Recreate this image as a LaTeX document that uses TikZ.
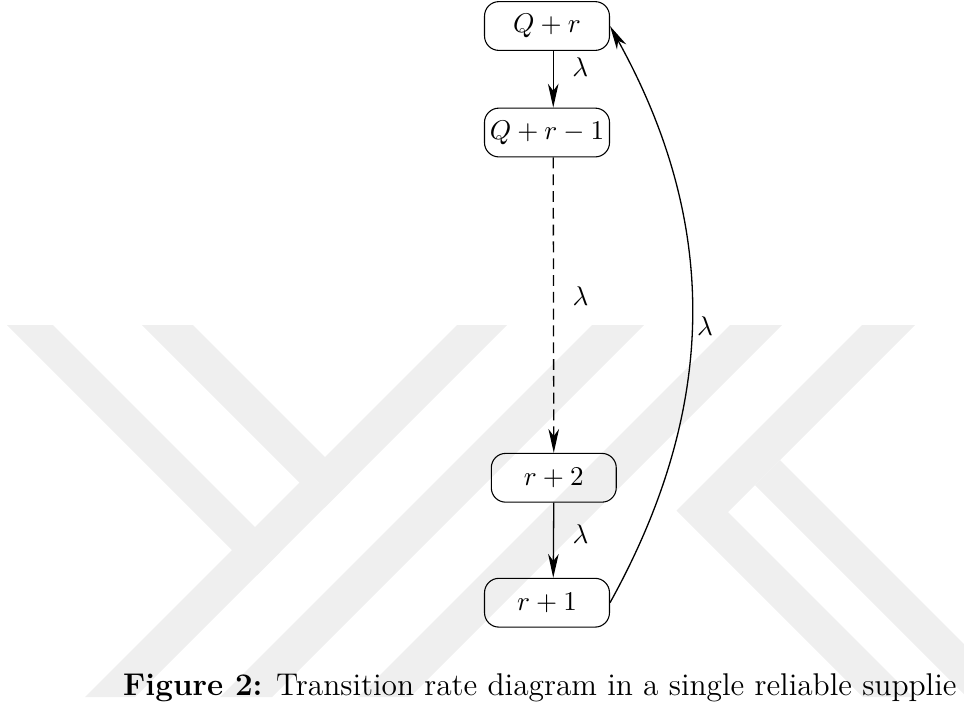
\documentclass[tikz,border=0pt,12pt]{standalone}
\usepackage{tikz}
\usetikzlibrary{positioning,arrows.meta,calc}
\definecolor{logogray}{RGB}{239,239,239}
\tikzset{
    state/.style={
        rectangle,
        draw,
        rounded corners=5.3pt,
        minimum width=46.1pt,
        minimum height=18pt,
        inner xsep=2pt,
        align=center,
        font=\fontsize{9.7}{11.6}\selectfont
    },
    arrow/.style={
        -{Stealth[length=8.8pt,width=3.9pt,inset=2.6pt]},
        line width=0.48pt
    },
    rate/.style={
        right=2.8pt,
        font=\fontsize{9.7}{11.6}\selectfont
    },
    logoband/.style={
        fill=logogray
    }
}

\begin{document}
\begin{tikzpicture}[x=0.369pt, y=-0.369pt]
    \useasboundingbox (0,0) rectangle (964,705);
    \fill[logoband] (7,325) -- (53,325) -- (280,552) -- (257,575) -- cycle;
    \fill[logoband] (142,325) -- (193,325) -- (350,482) -- (324.5,507.5) -- cycle;
    \fill[logoband] (457,325) -- (507,325) -- (135,697) -- (85,697) -- cycle;
    \fill[logoband] (592,325) -- (644,325) -- (272,697) -- (220,697) -- cycle;
    \fill[logoband] (730,325) -- (782,325) -- (410,697) -- (358,697) -- cycle;
    \fill[logoband] (862,325) -- (915,325) -- (728,512) -- (913,697) -- (863,697) -- (676.5,510.5) -- cycle;
    \fill[logoband] (780,460) -- (964,644) -- (964,694) -- (755,485) -- cycle;

    \node[state] (qr) at (547,26) {$Q+r$};
    \node[state, below=20.9pt of qr] (qr1) {$Q+r-1$};
    \node[state, below=109pt of qr1, xshift=2.5pt] (r2) {$r+2$};
    \node[state, below=27.7pt of r2, xshift=-2.5pt] (r1) {$r+1$};
    \draw[arrow] ([xshift=2.3pt]qr.south) -- node[rate, pos=0.29] {$\lambda$} ([xshift=2.3pt]qr1.north);
    \draw[arrow, dash pattern=on 4pt off 2.2pt] ([xshift=2.3pt]qr1.south) -- node[rate, pos=0.47] {$\lambda$} (r2.north);
    \draw[arrow] (r2.south) -- node[rate, pos=0.42] {$\lambda$} ([xshift=2.3pt]r1.north);
    \draw[arrow] (r1.east) to[bend right=29] node[rate, right=0pt, inner sep=1.8pt, pos=0.48] {$\lambda$} (qr.east);
    \node[anchor=base west, inner sep=0pt, font=\fontsize{11.6}{14}\selectfont] (caption) at (122.7,695.7) {\textbf{Figure 2:} Transition rate diagram in a single reliable supplie};
\end{tikzpicture}
\end{document}
